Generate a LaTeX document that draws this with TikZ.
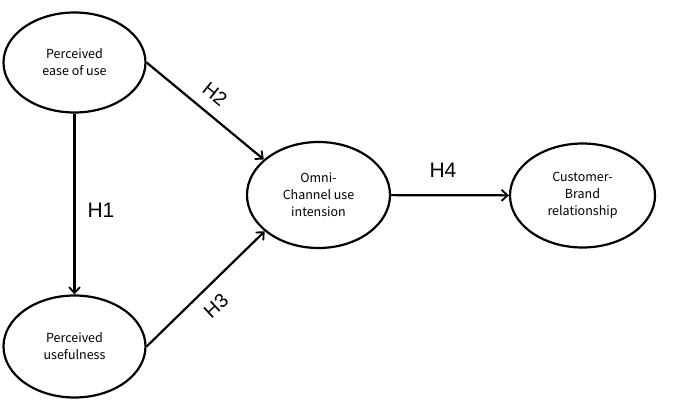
\documentclass[tikz,border=0pt]{standalone}
\usepackage{fontspec}
\setmainfont{Noto Sans CJK KR}
\newfontfamily\hfont{Liberation Sans}
\usetikzlibrary{shapes.geometric,arrows.meta}
\begin{document}
\begin{tikzpicture}[x=1pt,y=-1pt,
  construct/.style={draw,line width=2.2pt,ellipse,inner sep=0pt,align=center,
    font=\fontsize{12.5}{17}\selectfont},
  link/.style={line width=2.2pt,-{Straight Barb[length=6pt,width=11pt,line width=1.8pt]}},
  hlab/.style={font=\hfont\fontsize{21}{21}\selectfont,inner sep=0pt},
  hlabs/.style={font=\hfont\fontsize{19.5}{19.5}\selectfont,inner sep=0pt}]
\useasboundingbox (0,0) rectangle (674,401);
\node[construct,minimum width=142pt,minimum height=100pt] (peou) at (74.5,62.5) {Perceived\\ease of use};
\node[construct,minimum width=142pt,minimum height=102pt] (pu) at (74.5,346.5) {Perceived\\usefulness};
\node[construct,minimum width=143pt,minimum height=106pt] (omni) at (318.5,195) {Omni-\\Channel use\\intension};
\node[construct,minimum width=145pt,minimum height=104pt] (cbr) at (582.5,195.5) {Customer-\\Brand\\relationship};
\draw[link] (peou) -- (pu);
\draw[link] (peou.east) -- (omni.147);
\draw[link] (pu.east) -- (omni.214);
\draw[link] (omni) -- (cbr);
\node[hlab] (h1) at (101,210) {H1};
\node[hlabs,rotate=-39] (h2) at (215,94) {H2};
\node[hlabs,rotate=43] (h3) at (216,306) {H3};
\node[hlab] (h4) at (443,170) {H4};
\end{tikzpicture}
\end{document}
